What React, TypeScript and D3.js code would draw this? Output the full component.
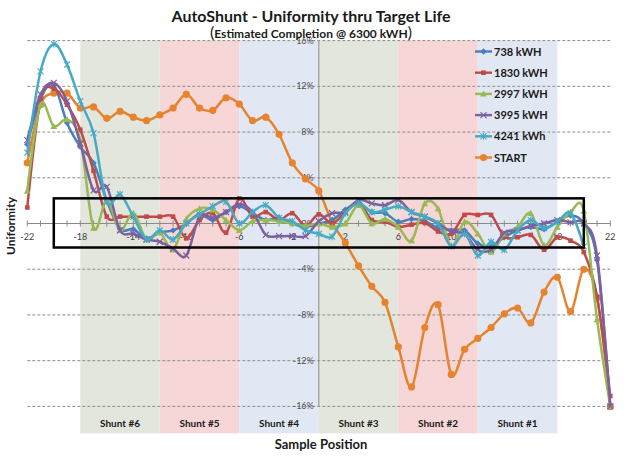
import React from "react";
import * as d3 from "d3";

const W = 624;
const H = 458;

const xValues = d3.range(-22, 23);

const seriesNames = ["738 kWH", "1830 kWH", "2997 kWH", "3995 kWH", "4241 kWh", "START"];
const seriesColors = ["#4A7EBB", "#BE4B48", "#98B954", "#7D60A0", "#46AAC5", "#E7822F"];
const seriesMarkers = ["diamond", "square", "triangle", "x", "star", "circle"];

const s738 = [6.9, 10.9, 12.1, 8.8, 6.7, 5.3, 2.0, -0.5, -0.5, -1.3, -0.8, -0.6, 0.0, 0.8, 0.3, 1.0, 1.5, 0.9, 0.3, 0.5, 0.0, -0.3, 0.0, 0.3, 1.2, 1.8, 1.0, 0.9, 0.15, 0.4, 0.2, -0.4, -0.6, -0.6, -1.75, -2.0, -1.2, -0.6, -0.3, -0.5, 0.15, 0.7, 0.0, -3.2, -16.0];
const s1830 = [1.4, 10.8, 11.8, 10.4, 8.2, 4.6, 0.6, 0.6, 0.6, 0.6, 0.6, 0.6, -1.3, 0.3, 0.9, -0.8, 2.2, 0.6, 1.0, 0.3, 0.9, -0.2, 0.8, 0.0, 1.0, 1.9, 0.3, 0.15, -0.3, -0.1, 0.05, -0.7, -0.9, 0.75, 0.75, 0.75, -1.15, -1.2, -1.0, -2.3, -1.2, -1.5, -2.5, -6.4, -15.1];
const s2997 = [2.85, 10.4, 8.5, 9.1, 7.3, -0.4, 2.0, -0.6, 0.9, -1.4, -0.8, -2.3, 0.4, 1.3, 1.2, 0.3, -0.6, 0.2, 0.3, 0.2, 0.0, -0.2, 0.0, -0.3, 0.0, 1.6, 0.0, 0.4, -0.3, -1.5, 1.75, 1.3, -2.0, 0.15, -0.9, -2.5, -0.9, -0.3, 0.9, -1.9, -0.3, 1.0, 1.1, -8.4, -16.0];
const s3995 = [7.3, 11.3, 12.3, 10.7, 7.0, 2.9, 3.2, -0.6, -0.9, -1.4, -1.6, -2.2, -2.8, 0.6, 0.5, 1.0, 1.7, 1.0, -1.0, -1.1, -1.1, -1.1, 0.2, 0.9, 1.0, 2.05, 1.76, 1.6, 2.05, 1.0, 0.6, 0.0, -0.7, -0.9, -2.3, -2.3, -0.8, -0.6, -0.2, 0.0, 0.3, 0.1, 0.0, -2.8, -16.0];
const s4241 = [6.2, 13.3, 15.7, 13.9, 10.7, 7.9, 1.9, 2.55, 0.6, -1.4, -0.6, -1.4, 0.0, 0.8, 1.5, 1.9, 0.0, 1.0, 1.6, 0.5, 0.2, -0.6, -0.9, -1.15, 0.9, 1.76, 1.0, 1.2, 1.5, 1.0, 0.6, 0.0, -2.0, -0.9, -2.8, -1.6, -2.3, -0.6, 0.3, -0.4, 0.15, 0.9, -2.0, null, null];
const sStart = [5.3, 10.4, 11.4, 11.4, 10.1, 10.2, 9.2, 9.8, 9.3, 9.0, 9.5, 10.1, 11.3, 10.1, 9.9, 11.0, 10.45, 9.0, 9.3, 7.8, 5.3, 3.9, 2.85, 0.1, -1.7, -3.7, -5.5, -6.9, -10.8, -14.3, -9.1, -7.1, -13.2, -11.0, -10.05, -9.1, -7.9, -7.4, -8.7, -6.0, -4.7, -7.7, -4.0, -6.5, -16.0];

const seriesValues = [s738, s1830, s2997, s3995, s4241, sStart];

const yTicks = [16, 12, 8, 4, 0, -4, -8, -12, -16];
const xLabelTicks = [-22, -18, -14, -10, -6, -2, 2, 6, 10, 14, 18, 22];

const bandStarts = [-18, -12, -6, 0, 6, 12];
const bandWidth = 6;
const bandLabels = ["Shunt #6", "Shunt #5", "Shunt #4", "Shunt #3", "Shunt #2", "Shunt #1"];
const bandColors = ["#E3E6DD", "#F6D6D6", "#E2E8F3", "#E3E6DD", "#F6D6D6", "#E2E8F3"];

const boxX = [-20, 20];
const boxY = [-2.1, 2.2];

const title = "AutoShunt - Uniformity thru Target Life";
const subtitle = "Estimated Completion @ 6300 kWH";
const xTitle = "Sample Position";
const yTitle = "Uniformity";

const FONT = "Lato, 'Open Sans', sans-serif";

function Marker({ type, x, y, color }: { type: string; x: number; y: number; color: string }) {
  if (type === "circle") return <circle cx={x} cy={y} r={3.6} fill={color} />;
  if (type === "square") return <rect x={x - 2.3} y={y - 2.3} width={4.6} height={4.6} fill={color} />;
  if (type === "diamond") {
    const s = 3.2;
    return <path d={`M${x},${y - s}L${x + s},${y}L${x},${y + s}L${x - s},${y}Z`} fill={color} />;
  }
  if (type === "triangle") {
    const s = 3.4;
    return <path d={`M${x},${y - s}L${x + s},${y + s * 0.8}L${x - s},${y + s * 0.8}Z`} fill={color} />;
  }
  if (type === "x") {
    const s = 3;
    return (
      <path d={`M${x - s},${y - s}L${x + s},${y + s}M${x - s},${y + s}L${x + s},${y - s}`} stroke={color} strokeWidth={1.2} />
    );
  }
  const s = 3;
  return (
    <path
      d={`M${x - s},${y - s}L${x + s},${y + s}M${x - s},${y + s}L${x + s},${y - s}M${x},${y - s - 0.5}L${x},${y + s + 0.5}`}
      stroke={color}
      strokeWidth={1.1}
    />
  );
}

export default function App() {
  const x = d3.scaleLinear().domain([-22, 22]).range([27.3, 610.3]);
  const y = d3.scaleLinear().domain([-16, 16]).range([406.4, 40.6]);

  const bandTop = y(16);
  const bandBottom = y(-16) + 27;

  const line = d3
    .line<[number, number | null]>()
    .defined((d) => d[1] !== null)
    .x((d) => x(d[0]))
    .y((d) => y(d[1] as number))
    .curve(d3.curveCardinal.tension(0));

  const minorTicks = d3.range(-22, 23);

  const order = [5, 0, 1, 2, 3, 4];

  return (
    <svg width={W} height={H} style={{ position: "absolute", left: 0, top: 0, background: "#fff" }}>
      <rect x={0} y={0} width={W} height={H} fill="#fff" />
      {bandStarts.map((b, i) => (
        <g key={"band" + i}>
          <rect
            x={x(b)}
            y={bandTop}
            width={x(b + bandWidth) - x(b)}
            height={bandBottom - bandTop}
            fill={bandColors[i]}
          />
          <text
            x={(x(b) + x(b + bandWidth)) / 2}
            y={427}
            textAnchor="middle"
            fontFamily={FONT}
            fontWeight="bold"
            fontSize={10}
            fill="#1a1a1a"
          >
            {bandLabels[i]}
          </text>
        </g>
      ))}
      {yTicks
        .filter((t) => t !== 0)
        .map((t) => (
          <line
            key={"g" + t}
            x1={x(-22)}
            x2={x(22)}
            y1={y(t)}
            y2={y(t)}
            stroke="#8c8c8c"
            strokeWidth={1}
            strokeDasharray="3,2"
          />
        ))}
      <line x1={x(0)} x2={x(0)} y1={y(16)} y2={y(-16)} stroke="#8a8a8a" strokeWidth={1} />
      {yTicks.map((t) => (
        <text
          key={"yl" + t}
          x={x(0) - 5}
          y={y(t) + 3}
          textAnchor="end"
          fontFamily={FONT}
          fontSize={9}
          fill="#505050"
        >
          {t + "%"}
        </text>
      ))}
      <line x1={x(-22)} x2={x(22)} y1={y(0)} y2={y(0)} stroke="#8a8a8a" strokeWidth={1} />
      {minorTicks.map((t) => (
        <line key={"mt" + t} x1={x(t)} x2={x(t)} y1={y(0) - 3} y2={y(0) + 3} stroke="#8a8a8a" strokeWidth={1} />
      ))}
      {xLabelTicks.map((t) => (
        <text
          key={"xl" + t}
          x={x(t)}
          y={y(0) + 16}
          textAnchor="middle"
          fontFamily={FONT}
          fontSize={9}
          fill="#404040"
        >
          {String(t)}
        </text>
      ))}
      {order.map((si) => {
        const data: [number, number | null][] = xValues.map((xv, i) => [xv, seriesValues[si][i]]);
        return (
          <g key={"s" + si}>
            <path d={line(data) || ""} fill="none" stroke={seriesColors[si]} strokeWidth={2.5} />
            {data
              .filter((d) => d[1] !== null)
              .map((d, j) => (
                <Marker key={j} type={seriesMarkers[si]} x={x(d[0])} y={y(d[1] as number)} color={seriesColors[si]} />
              ))}
          </g>
        );
      })}
      <rect
        x={x(boxX[0])}
        y={y(boxY[1])}
        width={x(boxX[1]) - x(boxX[0])}
        height={y(boxY[0]) - y(boxY[1])}
        fill="none"
        stroke="#000"
        strokeWidth={2.5}
      />
      {seriesNames.map((n, i) => {
        const ly = 51.5 + i * 21.2;
        return (
          <g key={"lg" + i}>
            <line x1={475} x2={492} y1={ly} y2={ly} stroke={seriesColors[i]} strokeWidth={2.4} />
            <Marker type={seriesMarkers[i]} x={483.5} y={ly} color={seriesColors[i]} />
            <text x={494} y={ly + 4} fontFamily={FONT} fontWeight="bold" fontSize={11} fill="#1a1a1a">
              {n}
            </text>
          </g>
        );
      })}
      <text x={311} y={22} textAnchor="middle" fontFamily={FONT} fontWeight="bold" fontSize={16} fill="#1a1a1a">
        {title}
      </text>
      <text x={311} y={38} textAnchor="middle" fontFamily={FONT} fontWeight="bold" fontSize={12} fill="#1a1a1a">
        <tspan fontSize={16} fontWeight="normal">(</tspan>
        <tspan>{subtitle}</tspan>
        <tspan fontSize={16} fontWeight="normal">)</tspan>
      </text>
      <text x={321} y={449} textAnchor="middle" fontFamily={FONT} fontWeight="bold" fontSize={13} fill="#1a1a1a">
        {xTitle}
      </text>
      <text
        transform={`translate(15,${226}) rotate(-90)`}
        textAnchor="middle"
        fontFamily={FONT}
        fontWeight="bold"
        fontSize={12}
        fill="#1a1a1a"
      >
        {yTitle}
      </text>
    </svg>
  );
}
